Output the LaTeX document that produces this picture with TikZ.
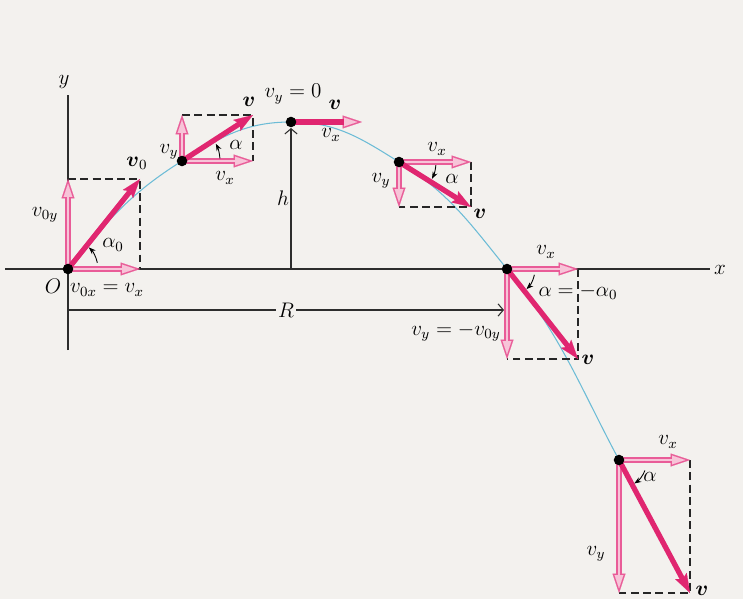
\documentclass[tikz,border=0pt]{standalone}
\usepackage{amsmath, amssymb}
\usepackage{tikz}
\usetikzlibrary{arrows.meta, calc}
\definecolor{paper}{RGB}{243,241,238}
\definecolor{velred}{RGB}{224,38,112}
\definecolor{compline}{RGB}{233,92,152}
\definecolor{compfill}{RGB}{247,196,216}
\definecolor{pathblue}{RGB}{108,188,214}
\definecolor{axisgray}{RGB}{45,45,45}

\begin{document}
\begin{tikzpicture}[x=0.02cm, y=0.02cm,
    lbl/.style={font=\fontsize{12}{14}\selectfont, inner sep=1pt},
    axis/.style={draw=axisgray, line width=0.8pt},
    traj/.style={draw=pathblue, line width=0.6pt},
    dot/.style={circle, fill=black, inner sep=0pt, minimum size=6pt},
    vel/.style={draw=velred, line width=3pt,
      -{Stealth[length=11pt, width=7.5pt, inset=2pt, line width=0.1pt]}},
    velshaft/.style={draw=velred, line width=3pt},
    comp/.style={draw=compline, line width=3.2pt,
      -{Triangle[length=11pt, width=7.4pt, line width=0.1pt]},
      postaction={draw=compfill, line width=1.3pt, shorten >=2.6pt,
        -{Triangle[length=7.6pt, width=5pt, line width=0.1pt]}}},
    dashbox/.style={draw=black!85, line width=0.8pt, dash pattern=on 4.5pt off 2.5pt},
    anglearc/.style={draw=black, line width=0.5pt, -{Stealth[length=4pt, width=3pt]}},
    dimarrow/.style={draw=axisgray, line width=0.6pt,
      -{Straight Barb[length=3pt, width=7pt]}},
]
\path[use as bounding box, fill=paper] (0,0) rectangle (743,599);

\coordinate (O)   at (68,330);
\coordinate (P1)  at (182,438);
\coordinate (top) at (291,477);
\coordinate (P3)  at (399,437);
\coordinate (P4)  at (507,330);
\coordinate (P5)  at (619,139);

\coordinate (xstart) at (5,330);
\coordinate (xend)   at (710,330);
\coordinate (ystart) at (68,249);
\coordinate (yend)   at (68,504);

\coordinate (v0x) at (140,330);
\coordinate (v0y) at (68,420);
\coordinate (c0)  at (140,420);
\coordinate (vx1) at (253,438);
\coordinate (vy1) at (182,484);
\coordinate (c1)  at (253,484);
\coordinate (vx2) at (362,477);
\coordinate (vx3) at (471,437);
\coordinate (vy3) at (399,392);
\coordinate (c3)  at (471,392);
\coordinate (vx4) at (578,330);
\coordinate (vy4) at (507,240);
\coordinate (c4)  at (578,240);
\coordinate (vx5) at (690,139);
\coordinate (vy5) at (619,6);
\coordinate (c5)  at (690,6);

\coordinate (hbase) at (291,330);
\coordinate (htip)  at (291,471);
\coordinate (Rstart) at (68,289);
\coordinate (Rend)   at (504,289);

\draw[axis] (xstart) -- (xend);
\draw[axis] (ystart) -- (yend);
\draw[dimarrow] (hbase) -- (htip);
\draw[dimarrow] (Rstart) -- node[lbl, fill=paper] (lR) {$R$} (Rend);

\draw[traj] (O) to[out=51, in=-148] (P1) to[out=32, in=180] (top)
    to[out=0, in=148] (P3) to[out=-32, in=129] (P4) to[out=-51, in=118] (P5);

\draw[dashbox] (v0y) -- (c0) -- (v0x);
\draw[dashbox] (vy1) -- (c1) -- (vx1);
\draw[dashbox] (vx3) -- (c3) -- (vy3);
\draw[dashbox] (vx4) -- (c4) -- (vy4);
\draw[dashbox] (vx5) -- (c5) -- (vy5);

\draw[comp] (O) -- (v0x);
\draw[comp] (O) -- (v0y);
\draw[comp] (P1) -- (vx1);
\draw[comp] (P1) -- (vy1);
\draw[comp] (top) -- (vx2);
\draw[comp] (P3) -- (vx3);
\draw[comp] (P3) -- (vy3);
\draw[comp] (P4) -- (vx4);
\draw[comp] (P4) -- (vy4);
\draw[comp] (P5) -- (vx5);
\draw[comp] (P5) -- (vy5);

\draw[vel] (O) -- (c0);
\draw[vel] (P1) -- (c1);
\draw[velshaft, shorten >=10pt] (top) -- (vx2);
\draw[vel] (P3) -- (c3);
\draw[vel] (P4) -- (c4);
\draw[vel] (P5) -- (c5);

\node[dot] (dO) at (O) {};
\node[dot] (d1) at (P1) {};
\node[dot] (d2) at (top) {};
\node[dot] (d3) at (P3) {};
\node[dot] (d4) at (P4) {};
\node[dot] (d5) at (P5) {};

\draw[anglearc] (O) ++(12:30) arc[start angle=12, end angle=46, radius=30];
\draw[anglearc] (P1) ++(4:38) arc[start angle=4, end angle=27, radius=38];
\draw[anglearc] (P3) ++(-5:37) arc[start angle=-5, end angle=-27, radius=37];
\draw[anglearc] (P4) ++(-12:28) arc[start angle=-12, end angle=-46, radius=28];
\draw[anglearc] (P5) ++(-22:28) arc[start angle=-22, end angle=-57, radius=28];

\node[lbl] (ly) at (64,517) {$y$};
\node[lbl] (lx) at (720,329) {$x$};
\node[lbl] (lO) at (53,313) {$O$};
\node[lbl] (lv0x) at (107,309) {$v_{0x} = v_x$};
\node[lbl] (lv0) at (137,436) {$\boldsymbol{v}_0$};
\node[lbl] (lv0y) at (45,384) {$v_{0y}$};
\node[lbl] (la0) at (113,354) {$\alpha_0$};

\node[lbl] (lv1) at (249,497) {$\boldsymbol{v}$};
\node[lbl] (lvy1) at (169,447) {$v_y$};
\node[lbl] (la1) at (236,454) {$\alpha$};
\node[lbl] (lvx1) at (225,421) {$v_x$};

\node[lbl] (lvy2) at (293,505) {$v_y = 0$};
\node[lbl] (lv2) at (335,494) {$\boldsymbol{v}$};
\node[lbl] (lvx2) at (331,464) {$v_x$};
\node[lbl] (lh) at (283,401) {$h$};

\node[lbl] (lvx3) at (437,450) {$v_x$};
\node[lbl] (lvy3) at (381,418) {$v_y$};
\node[lbl] (la3) at (452,420) {$\alpha$};
\node[lbl] (lv3) at (480,385) {$\boldsymbol{v}$};

\node[lbl] (lvx4) at (546,347) {$v_x$};
\node[lbl] (la4) at (578,307) {$\alpha = -\alpha_0$};
\node[lbl] (lvy4) at (456,267) {$v_y = -v_{0y}$};
\node[lbl] (lv4) at (588,239) {$\boldsymbol{v}$};

\node[lbl] (lvx5) at (668,157) {$v_x$};
\node[lbl] (la5) at (650,122) {$\alpha$};
\node[lbl] (lvy5) at (596,45) {$v_y$};
\node[lbl] (lv5) at (702,8) {$\boldsymbol{v}$};
\end{tikzpicture}
\end{document}
